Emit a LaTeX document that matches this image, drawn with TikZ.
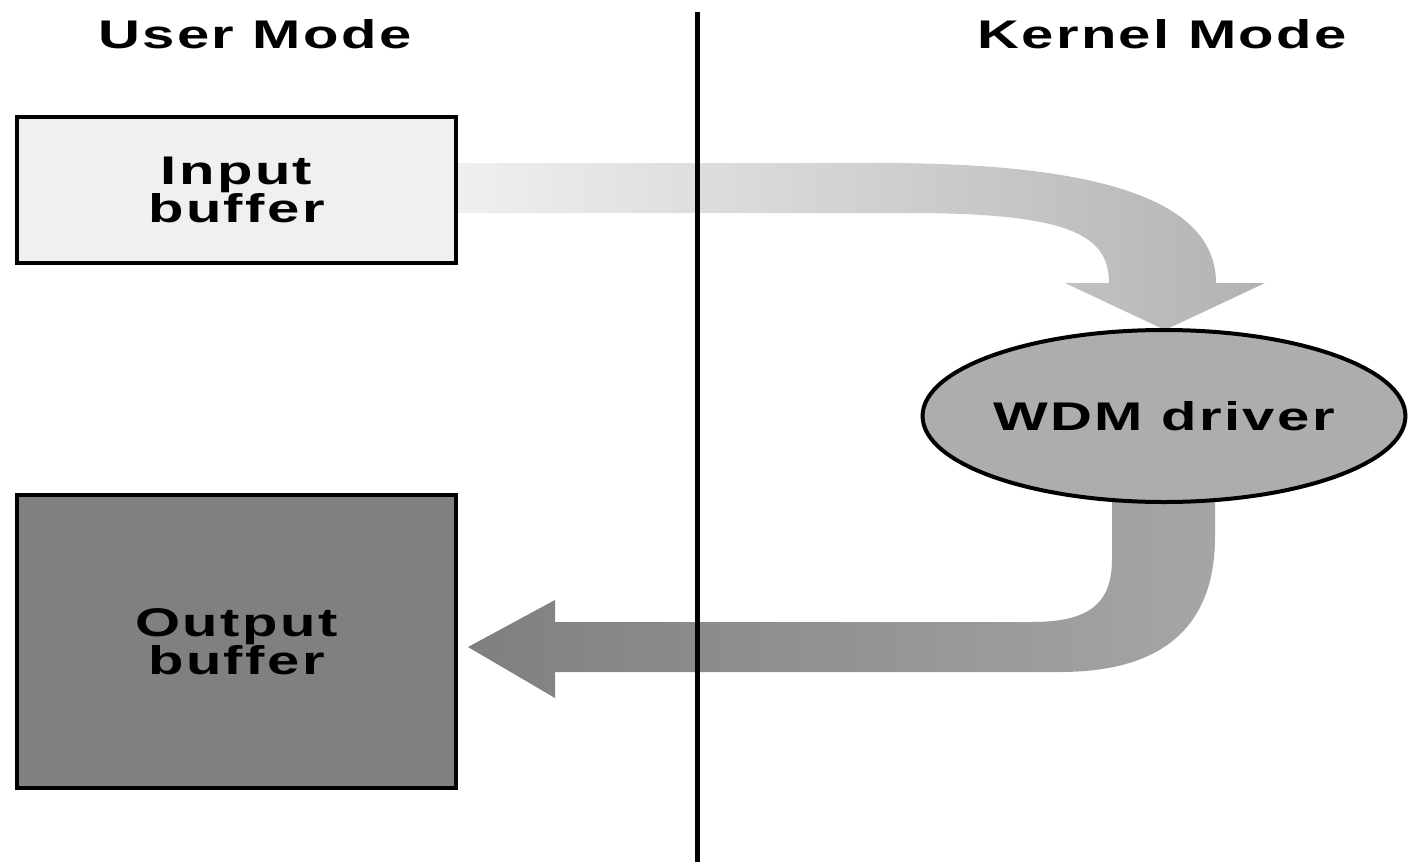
\documentclass[tikz,border=0pt]{standalone}
\usepackage{fontspec}
\setmainfont{Liberation Sans}[FakeStretch=1.45, LetterSpace=6]
\usetikzlibrary{shapes.geometric}
\definecolor{inputfill}{gray}{0.94}
\definecolor{outputfill}{gray}{0.50}
\definecolor{driverfill}{gray}{0.68}
\tikzset{
  bigtext/.style={font=\fontsize{40}{34}\selectfont\bfseries},
  label/.style={bigtext, inner sep=0pt, align=center},
  bufferbox/.style={bigtext, draw=black, line width=4pt, inner sep=0pt, align=center},
  driver/.style={bigtext, ellipse, draw=black, line width=4pt, fill=driverfill, inner sep=0pt},
  divider/.style={line width=5pt, black},
}
\begin{document}
\begin{tikzpicture}[x=1pt, y=-1pt]
  \useasboundingbox (0,0) rectangle (1409,865);

  % mode headings
  \node[label] (user) at (255,34) {User Mode};
  \node[label] (kernel) at (1162,34) {Kernel Mode};

  % buffers
  \node[bufferbox, fill=inputfill, minimum width=439pt, minimum height=146pt]
    (in) at (236.5,190) {Input\\buffer};
  \node[bufferbox, fill=outputfill, minimum width=439pt, minimum height=293pt]
    (out) at (236.5,641.5) {Output\\buffer};

  % request flowing into the driver
  \path[left color=black!6, right color=black!30]
    (458,163) -- (880,163) .. controls (1100,163) and (1216,200) .. (1216,283)
    -- (1265,283) -- (1165,330) -- (1065,283) -- (1109,283)
    .. controls (1109,235) and (1070,213) .. (908,213) -- (458,213) -- cycle;

  % completed data flowing back to the output buffer
  \path[left color=black!50, right color=black!35]
    (1112,470) -- (1112,560) .. controls (1112,610) and (1080,622) .. (1031,622)
    -- (555,622) -- (555,600) -- (468,647) -- (555,698) -- (555,672)
    -- (1060,672) .. controls (1180,672) and (1215,610) .. (1215,537)
    -- (1215,470) -- cycle;

  % driver
  \node[driver, minimum width=478pt, minimum height=172pt] (drv) at (1164,416) {WDM driver};

  % user / kernel boundary
  \coordinate (divtop) at (697,12);
  \coordinate (divbot) at (697,862);
  \draw[divider] (divtop) -- (divbot);
\end{tikzpicture}
\end{document}
